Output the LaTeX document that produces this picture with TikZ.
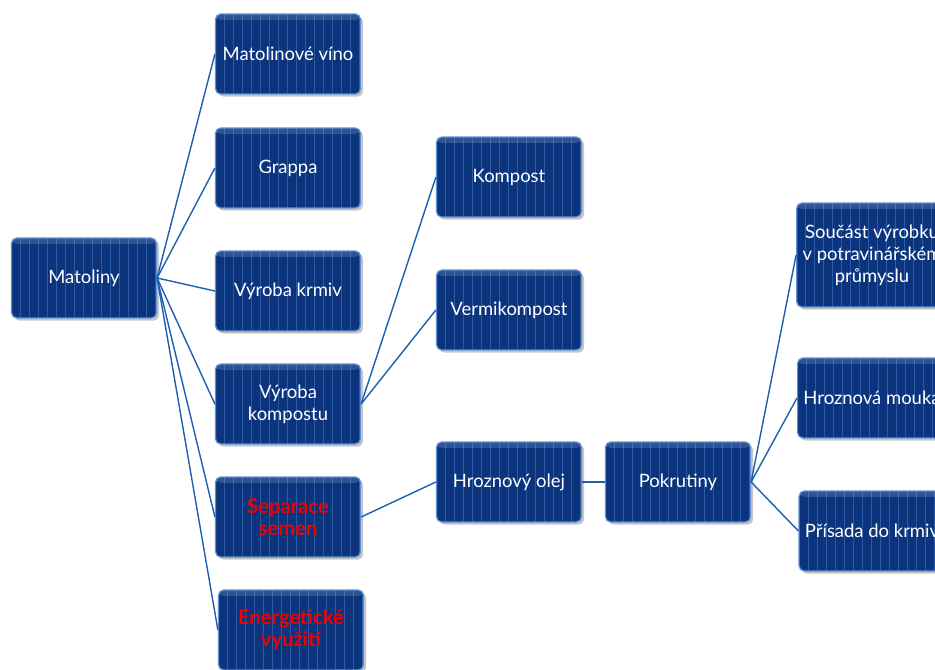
\documentclass[tikz,border=0pt]{standalone}
\usepackage{fontspec}
\setmainfont{Lato}
\usetikzlibrary{shadows}
\definecolor{boxfill}{RGB}{11,52,125}
\definecolor{boxedge}{RGB}{95,145,215}
\definecolor{stripecol}{RGB}{40,90,165}
\definecolor{linkcol}{RGB}{30,95,175}
\definecolor{redtext}{RGB}{240,0,0}
\tikzset{
  box/.style={rectangle, rounded corners=3pt, draw=boxedge, line width=0.7pt, fill=boxfill,
    minimum width=2.9cm, minimum height=1.6cm, align=center, text=white,
    font=\fontsize{10.5}{12.5}\selectfont,
    drop shadow={shadow xshift=1.5pt, shadow yshift=-1.5pt, opacity=0.45},
    path picture={
      \foreach \k in {1,...,16}
        \draw[stripecol, line width=0.6pt] ([xshift=\k*0.18cm]path picture bounding box.south west) -- ([xshift=\k*0.18cm]path picture bounding box.north west);
      \fill[white, opacity=0.15] (path picture bounding box.north west) rectangle ([yshift=-0.12cm]path picture bounding box.north east);
    }},
  hot/.style={text=redtext, font=\fontsize{11.5}{12.5}\selectfont\bfseries},
  link/.style={draw=linkcol, line width=0.8pt}
}
\begin{document}
\begin{tikzpicture}[x=0.02cm, y=-0.02cm]
  \useasboundingbox (0,0) rectangle (935,669);
  % Main nodes
  \node[box] (mat) at (84,278) {Matoliny};
  \node[box] (vino) at (288,54) {Matolinové víno};
  \node[box] (grappa) at (288,168) {Grappa};
  \node[box] (krmiv) at (288,291) {Výroba krmiv};
  \node[box] (vyrkomp) at (288,404) {Výroba\\kompostu};
  \node[box, hot] (semen) at (288,517) {Separace\\semen};
  \node[box, hot] (energ) at (291,630) {Energetické\\využití};
  \node[box] (kompost) at (509,177) {Kompost};
  \node[box] (vermi) at (509,310) {Vermikompost};
  \node[box] (olej) at (509,482) {Hroznový olej};
  \node[box] (pokr) at (678,482) {Pokrutiny};
  \node[box, minimum height=2.08cm] (soucast) at (872,255) {Součást výrobku\\v potravinářském\\průmyslu};
  \node[box] (mouka) at (872,398) {Hroznová mouka};
  \node[box] (prisada) at (872,531) {Přísada do krmiv};

  % Edges - Matoliny
  \foreach \t in {vino, grappa, krmiv, vyrkomp, semen, energ}
    \draw[link] (mat.east) -- (\t.west);

  % Edges - kompost
  \draw[link] (vyrkomp.east) -- (kompost.west);
  \draw[link] (vyrkomp.east) -- (vermi.west);

  % Edges - olej
  \draw[link] (semen.east) -- (olej.west);
  \draw[link] (olej) -- (pokr);
  \foreach \t in {soucast, mouka, prisada}
    \draw[link] (pokr.east) -- (\t.west);
\end{tikzpicture}
\end{document}
